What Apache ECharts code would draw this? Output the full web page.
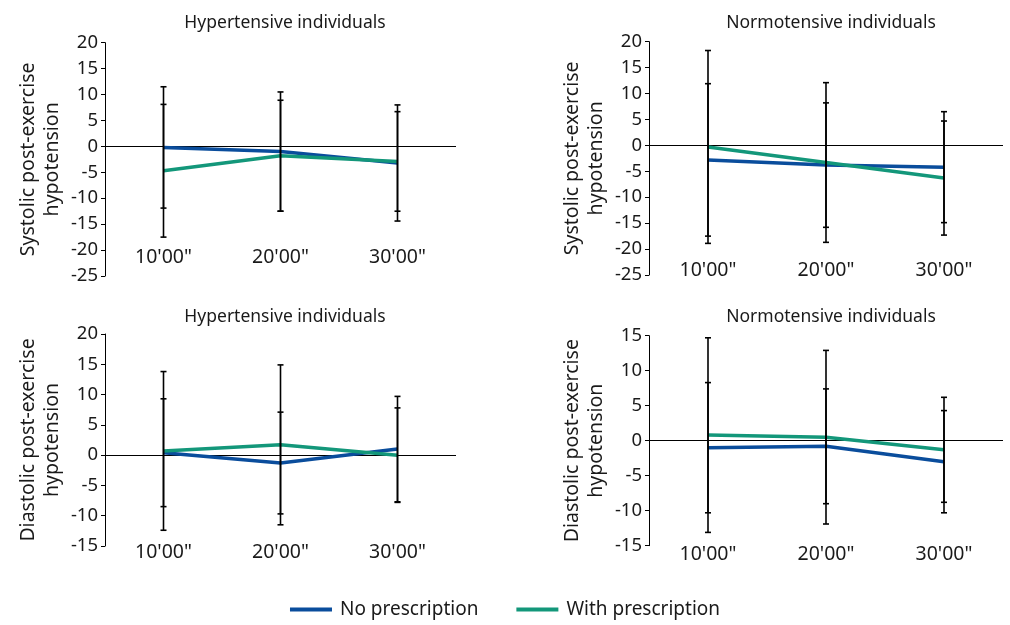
<!DOCTYPE html>
<html>
<head>
<meta charset="utf-8">
<script src="https://cdn.jsdelivr.net/npm/echarts@6/dist/echarts.min.js"></script>
<style>html,body{margin:0;padding:0;background:#fff;}#c{width:1010px;height:625px;}</style>
</head>
<body>
<div id="c"></div>
<script>
const categories = ["10'00\"", "20'00\"", "30'00\""];
const seriesNames = ["No prescription", "With prescription"];
const panelTitles = ["Hypertensive individuals", "Normotensive individuals", "Hypertensive individuals", "Normotensive individuals"];
const yNames = ["Systolic post-exercise\nhypotension", "Systolic post-exercise\nhypotension", "Diastolic post-exercise\nhypotension", "Diastolic post-exercise\nhypotension"];

// Systolic, hypertensive
const sysHyperNoMean = [-0.2, -1.0, -3.2];
const sysHyperNoSD = [11.7, 11.5, 11.2];
const sysHyperWithMean = [-4.7, -1.8, -2.9];
const sysHyperWithSD = [12.8, 10.7, 9.6];
// Systolic, normotensive
const sysNormoNoMean = [-2.8, -3.8, -4.2];
const sysNormoNoSD = [14.7, 12.0, 10.7];
const sysNormoWithMean = [-0.3, -3.3, -6.3];
const sysNormoWithSD = [18.6, 15.4, 11.0];
// Diastolic, hypertensive
const diaHyperNoMean = [0.4, -1.3, 1.0];
const diaHyperNoSD = [8.9, 8.4, 8.7];
const diaHyperWithMean = [0.7, 1.7, 0.0];
const diaHyperWithSD = [13.1, 13.2, 7.8];
// Diastolic, normotensive
const diaNormoNoMean = [-1.0, -0.8, -3.0];
const diaNormoNoSD = [9.3, 8.2, 7.3];
const diaNormoWithMean = [0.8, 0.5, -1.3];
const diaNormoWithSD = [13.9, 12.4, 7.5];

const yRanges = [[-25, 20], [-25, 20], [-15, 20], [-15, 15]];

const panels = [
  {no: [sysHyperNoMean, sysHyperNoSD], wi: [sysHyperWithMean, sysHyperWithSD]},
  {no: [sysNormoNoMean, sysNormoNoSD], wi: [sysNormoWithMean, sysNormoWithSD]},
  {no: [diaHyperNoMean, diaHyperNoSD], wi: [diaHyperWithMean, diaHyperWithSD]},
  {no: [diaNormoNoMean, diaNormoNoSD], wi: [diaNormoWithMean, diaNormoWithSD]}
];

const FONT = "Noto Sans";
const TXT = "#1a1a1a";
const BLUE = "#0a4d9c";
const GREEN = "#13977a";

const grids = [
  {left: 105, top: 42.7, width: 351, height: 233.3},
  {left: 649, top: 41.7, width: 354, height: 233.3},
  {left: 105, top: 334, width: 351, height: 212},
  {left: 649, top: 335.7, width: 354, height: 210}
];
const labelMargins = [-19, -5, 6, 9];
const titleY = [9, 9, 303, 303];
const titleX = [280, 826, 280, 826];

const option = {
  animation: false,
  textStyle: {fontFamily: FONT},
  title: panelTitles.map((t, i) => ({
    text: t, left: titleX[i], top: titleY[i], textAlign: 'center',
    textStyle: {fontFamily: FONT, fontSize: 17.5, fontWeight: 'normal', color: TXT}
  })),
  legend: {
    bottom: 1, left: 'center', itemWidth: 42, itemHeight: 4, itemGap: 38, icon: 'rect',
    data: seriesNames,
    textStyle: {fontFamily: FONT, fontSize: 19, color: TXT, padding: [0, 0, 0, 3]}
  },
  grid: grids,
  xAxis: grids.map((g, i) => ({
    type: 'category', gridIndex: i, data: categories, boundaryGap: true,
    axisLine: {show: false}, axisTick: {show: false}, splitLine: {show: false},
    axisLabel: {margin: labelMargins[i], verticalAlign: 'middle', fontFamily: FONT, fontSize: 19.5, color: TXT}
  })),
  yAxis: grids.map((g, i) => ({
    type: 'value', gridIndex: i, min: yRanges[i][0], max: yRanges[i][1], interval: 5,
    name: yNames[i], nameLocation: 'middle', nameRotate: 90, nameGap: 41,
    nameTextStyle: {fontFamily: FONT, fontSize: 19.5, color: TXT, lineHeight: 24},
    axisLine: {show: true, onZero: false, lineStyle: {color: '#000', width: 1}},
    axisTick: {show: true, length: 4, lineStyle: {color: '#000'}},
    splitLine: {show: false},
    axisLabel: {margin: 7, fontFamily: FONT, fontSize: 18.5, color: TXT}
  })),
  series: []
};

function errRender(params, api) {
  const x = api.value(0);
  const lo = api.coord([x, api.value(1)]);
  const hi = api.coord([x, api.value(2)]);
  const w = 3;
  const st = {stroke: '#000', lineWidth: 1.6};
  return {type: 'group', children: [
    {type: 'line', shape: {x1: lo[0], y1: lo[1], x2: hi[0], y2: hi[1]}, style: st},
    {type: 'line', shape: {x1: lo[0] - w, y1: lo[1], x2: lo[0] + w, y2: lo[1]}, style: st},
    {type: 'line', shape: {x1: hi[0] - w, y1: hi[1], x2: hi[0] + w, y2: hi[1]}, style: st}
  ]};
}

panels.forEach((p, i) => {
  const defs = [[seriesNames[0], p.no, BLUE], [seriesNames[1], p.wi, GREEN]];
  defs.forEach((d, k) => {
    const s = {
      name: d[0], type: 'line', xAxisIndex: i, yAxisIndex: i, data: d[1][0],
      showSymbol: false, symbol: 'none', lineStyle: {color: d[2], width: 3.5}, itemStyle: {color: d[2]}, z: 3 + k
    };
    if (k === 0) {
      s.markLine = {silent: true, symbol: 'none', label: {show: false},
        lineStyle: {color: '#000', width: 1, type: 'solid'}, data: [{yAxis: 0}], z: 1};
    }
    option.series.push(s);
  });
  defs.forEach((d) => {
    option.series.push({
      type: 'custom', xAxisIndex: i, yAxisIndex: i, z: 10, silent: true,
      renderItem: errRender,
      data: d[1][0].map((m, j) => [j, m - d[1][1][j], m + d[1][1][j]])
    });
  });
});

const chart = echarts.init(document.getElementById('c'), null, {renderer: 'canvas'});
chart.setOption(option);
</script>
</body>
</html>
